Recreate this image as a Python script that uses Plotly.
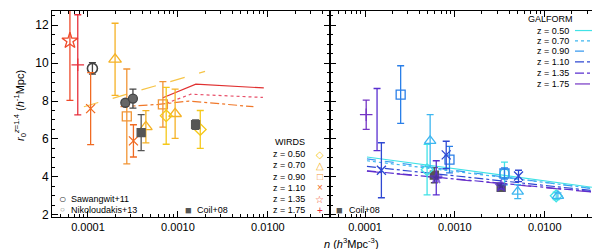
import plotly.graph_objects as go

# ---------------- data: left panel (observations) ----------------
L_z050_n = [7.4e-4, 1.77e-3]; L_z050_r = [7.22, 6.5]; L_z050_e = [1.5, 1.0]
L_z070_n = [2.0e-4, 4.4e-4, 9.3e-4]; L_z070_r = [10.2, 6.64, 7.33]; L_z070_e = [1.9, 0.85, 1.3]
L_z090_n = [2.7e-4, 6.8e-4]; L_z090_r = [7.19, 7.82]; L_z090_e = [2.5, 1.2]
L_z110_n = [1.07e-4, 3.2e-4]; L_z110_r = [7.6, 5.9]; L_z110_e = [1.9, 0.85]
L_z135_n = [6.3e-5]; L_z135_r = [11.18]; L_z135_e = [3.15]
L_z175_n = [7.7e-5]; L_z175_r = [9.91]; L_z175_e = [2.64]
saw_n = [1.12e-4]; saw_r = [9.72]; saw_e = [0.3]
nik_n = [2.6e-4, 3.16e-4]; nik_r = [7.91, 8.13]; nik_e = [0.0, 0.5]
coilL_n = [3.9e-4, 1.57e-3]; coilL_r = [6.33, 6.76]; coilL_e = [0.95, 0.25]

# model lines in left panel
ln_red_n = [6.8e-4, 1.58e-3, 9.0e-3]; ln_red_r = [8.17, 8.89, 8.69]
ln_dot_n = [7.4e-4, 1.39e-3, 8.8e-3]; ln_dot_r = [7.88, 8.36, 8.19]
ln_dd_n = [2.3e-4, 6.0e-4, 1.33e-3, 6.9e-3]; ln_dd_r = [7.7, 7.82, 8.0, 7.7]
ln_gold_n = [9.0e-5, 2.0e-3]; ln_gold_r = [7.7, 9.56]

# ---------------- data: right panel (GALFORM) ----------------
R_z050_n = [4.9e-4, 3.56e-3, 0.0134]; R_z050_r = [4.38, 4.18, 3.0]; R_z050_e = [1.33, 0.6, 0.2]
R_z070_n = [5.3e-4, 5.0e-3, 0.0140]; R_z070_r = [5.9, 3.22, 3.0]; R_z070_e = [1.38, 0.37, 0.15]
R_z090_n = [2.49e-4, 8.7e-4, 3.56e-3]; R_z090_r = [8.34, 4.91, 4.18]; R_z090_e = [1.52, 0.7, 0.3]
R_z110_n = [1.52e-4, 8.0e-4, 5.1e-3]; R_z110_r = [4.35, 5.16, 4.05]; R_z110_e = [1.45, 0.72, 0.3]
R_z135_n = [1.36e-4, 6.2e-4, 3.27e-3]; R_z135_r = [7.02, 3.95, 3.52]; R_z135_e = [1.64, 0.9, 0.15]
R_z175_n = [1.03e-4]; R_z175_r = [7.28]; R_z175_e = [0.77]
coilR_n = [5.9e-4, 3.27e-3]; coilR_r = [4.09, 3.45]; coilR_e = [0.4, 0.1]

gal_n = [1.05e-4, 0.034]
gal_z050 = [5.05, 3.45]
gal_z070 = [4.85, 3.40]
gal_z090 = [4.95, 3.38]
gal_z110 = [4.55, 3.28]
gal_z135 = [4.32, 3.22]
gal_z175 = [4.30, 3.20]

x_ticks = [1e-4, 1e-3, 1e-2]
x_ticktext = ["0.0001", "0.0010", "0.0100"]
y_ticks = [2, 4, 6, 8, 10, 12]

# ---------------- colours ----------------
cL = {"050": "#f5c81a", "070": "#f5b225", "090": "#f19434", "110": "#f06a22", "135": "#ef4a2a", "175": "#e7303c"}
cR = {"050": "#40e2e6", "070": "#3eb6f0", "090": "#2a7fe8", "110": "#2f48d2", "135": "#5a2fd0", "175": "#7434c4"}
grey = "#555555"

fig = go.Figure()

def pts(n, r, e, color, symbol, size, xa, ya, fill=None, lw=1.3):
    fig.add_trace(go.Scatter(
        x=n, y=r, mode="markers", xaxis=xa, yaxis=ya, showlegend=False,
        error_y=dict(type="data", array=e, visible=True, color=color, thickness=1.3, width=3.5),
        marker=dict(symbol=symbol, size=size, color=fill if fill else color,
                    line=dict(color=color, width=lw))))

def line(n, r, color, dash, xa, ya, w=1.2):
    fig.add_trace(go.Scatter(x=n, y=r, mode="lines", xaxis=xa, yaxis=ya, showlegend=False,
                             line=dict(color=color, dash=dash, width=w)))

# left model lines
line(ln_gold_n, ln_gold_r, "#f6c447", "longdash", "x", "y")
line(ln_dd_n, ln_dd_r, "#f0782a", "dashdot", "x", "y")
line(ln_dot_n, ln_dot_r, "#e8506a", "dot", "x", "y")
line(ln_red_n, ln_red_r, "#e03030", "solid", "x", "y")

# left points
pts(saw_n, saw_r, saw_e, "#444444", "circle-open", 10, "x", "y", lw=1.6)
pts(L_z110_n, L_z110_r, L_z110_e, cL["110"], "x-thin-open", 9, "x", "y")
pts(L_z090_n, L_z090_r, L_z090_e, cL["090"], "square-open", 9, "x", "y")
pts(L_z070_n, L_z070_r, L_z070_e, cL["070"], "triangle-up-open", 11, "x", "y")
pts(L_z050_n, L_z050_r, L_z050_e, cL["050"], "diamond-open", 9, "x", "y")
pts(L_z135_n, L_z135_r, L_z135_e, cL["135"], "star-open", 12, "x", "y")
pts(L_z175_n, L_z175_r, L_z175_e, cL["175"], "cross-thin-open", 9, "x", "y")
pts(nik_n, nik_r, nik_e, "#444444", "circle", 9, "x", "y", fill="#666666")
pts(coilL_n, coilL_r, coilL_e, grey, "square", 8, "x", "y", fill="#555555")

# right model lines
line(gal_n, gal_z175, cR["175"], "longdash", "x2", "y2")
line(gal_n, gal_z135, cR["135"], "dashdot", "x2", "y2")
line(gal_n, gal_z110, cR["110"], "dashdot", "x2", "y2")
line(gal_n, gal_z090, "#3a9af0", "dash", "x2", "y2")
line(gal_n, gal_z070, cR["070"], "dot", "x2", "y2")
line(gal_n, gal_z050, cR["050"], "solid", "x2", "y2")

# right points
pts(coilR_n, coilR_r, coilR_e, grey, "square", 8, "x2", "y2", fill="#555555")
pts(R_z050_n, R_z050_r, R_z050_e, cR["050"], ["diamond-open", "circle-open", "diamond-open"], 9, "x2", "y2")
pts(R_z070_n, R_z070_r, R_z070_e, cR["070"], "triangle-up-open", 10, "x2", "y2")
pts(R_z090_n, R_z090_r, R_z090_e, cR["090"], "square-open", 9, "x2", "y2")
pts(R_z110_n, R_z110_r, R_z110_e, cR["110"], "x-thin-open", 9, "x2", "y2")
pts(R_z135_n, R_z135_r, R_z135_e, cR["135"], ["star-open", "star", "star"], [12, 9, 9], "x2", "y2")
fig.data[-1].marker.color = ["rgba(0,0,0,0)", "#4a2aa0", "#3a2a90"]
pts(R_z175_n, R_z175_r, R_z175_e, cR["175"], "cross-thin-open", 9, "x2", "y2")

# ---------------- axes ----------------
dx1 = [44 / 600, 322 / 600]
dx2 = [322 / 600, 597 / 600]
dy = [1 - 213 / 249, 1 - 3 / 249]
minor_x = [m * 10 ** e for e in (-5, -4, -3, -2) for m in range(2, 10)]
font = "Liberation Sans, Arial, sans-serif"
xcommon = dict(type="log", range=[-4.4, -1.31], tickmode="array", tickvals=x_ticks,
               ticktext=x_ticktext, ticks="inside", ticklen=6, tickcolor="black",
               showline=True, linecolor="black", linewidth=1, mirror="ticks",
               showgrid=False, zeroline=False,
               minor=dict(tickmode="array", tickvals=minor_x, ticks="inside", ticklen=3, tickcolor="black"),
               tickfont=dict(size=11, family=font, color="black"))
ycommon = dict(range=[1.9, 12.75], tickmode="array", tickvals=y_ticks, ticks="inside", ticklen=6,
               tickcolor="black", showline=True, linecolor="black", linewidth=1, mirror="ticks",
               showgrid=False, zeroline=False,
               minor=dict(dtick=0.5, ticks="inside", ticklen=3, tickcolor="black"),
               tickfont=dict(size=12, family=font, color="black"))

fig.update_layout(
    width=600, height=249, margin=dict(l=0, r=0, t=0, b=0),
    paper_bgcolor="white", plot_bgcolor="white",
    xaxis=dict(domain=dx1, anchor="y", **xcommon),
    xaxis2=dict(domain=dx2, anchor="y2", **{**xcommon, "range": [-4.39, -1.33]}),
    yaxis=dict(domain=dy, anchor="x", **ycommon),
    yaxis2=dict(domain=dy, anchor="x2", showticklabels=False, **ycommon),
    font=dict(family=font, color="black"),
)

ann = []
def A(x, y, text, size=9, xanchor="center", color="black", **kw):
    ann.append(dict(x=x / 600, y=1 - y / 249, xref="paper", yref="paper", showarrow=False,
                    xanchor=xanchor, yanchor="middle", text=text,
                    font=dict(size=size, color=color), **kw))

# axis titles
A(343, 240, "<i>n</i> (<i>h</i><sup>3</sup>Mpc<sup>-3</sup>)", size=11)
A(12, 100, "<i>r</i><sub>0</sub><sup><i>z</i>=1.4</sup> (<i>h</i><sup>-1</sup>Mpc)", size=11, textangle=-90)

# WIRDS legend
A(299, 137, "WIRDS", xanchor="right")
wl = [("0.50", "◇", cL["050"]), ("0.70", "△", cL["070"]), ("0.90", "□", cL["090"]),
      ("1.10", "×", cL["110"]), ("1.35", "☆", cL["135"]), ("1.75", "+", cL["175"])]
wy = [149, 160.5, 172, 183.5, 195, 206.5]
for (z, s, c), yy in zip(wl, wy):
    A(299, yy, f"z = {z}", xanchor="right")
    A(311.5, yy, s, size=10, color=c)

# Sawangwit / Nikoloudakis legend
A(55, 195, "○", size=12, color="#333333")
A(61, 195, "Sawangwit+11", xanchor="left")
A(55, 206, "○", size=8, color="#777777")
A(61, 206, "Nikoloudakis+13", xanchor="left")
# Coil legends
for xs in (180, 331.5):
    A(xs, 206, "■", size=11, color="#555555")
    A(xs + 7, 206, "Coil+08", xanchor="left")

# GALFORM legend
A(542, 11.5, "GALFORM")
gl = [("0.50", cR["050"], "solid"), ("0.70", cR["070"], "dot"), ("0.90", "#3a9af0", "dash"),
      ("1.10", cR["110"], "dashdot"), ("1.35", cR["135"], "dashdot"), ("1.75", cR["175"], "longdash")]
gy = [23, 33.5, 44, 55, 66.5, 77.5]
shapes = []
for (z, c, d), yy in zip(gl, gy):
    A(563, yy, f"z = {z}", xanchor="right")
    shapes.append(dict(type="line", xref="paper", yref="paper", x0=567 / 600, x1=588 / 600,
                       y0=1 - yy / 249, y1=1 - yy / 249, line=dict(color=c, dash=d, width=1.2)))

fig.update_layout(annotations=ann, shapes=shapes)
fig.write_html("out.html")
